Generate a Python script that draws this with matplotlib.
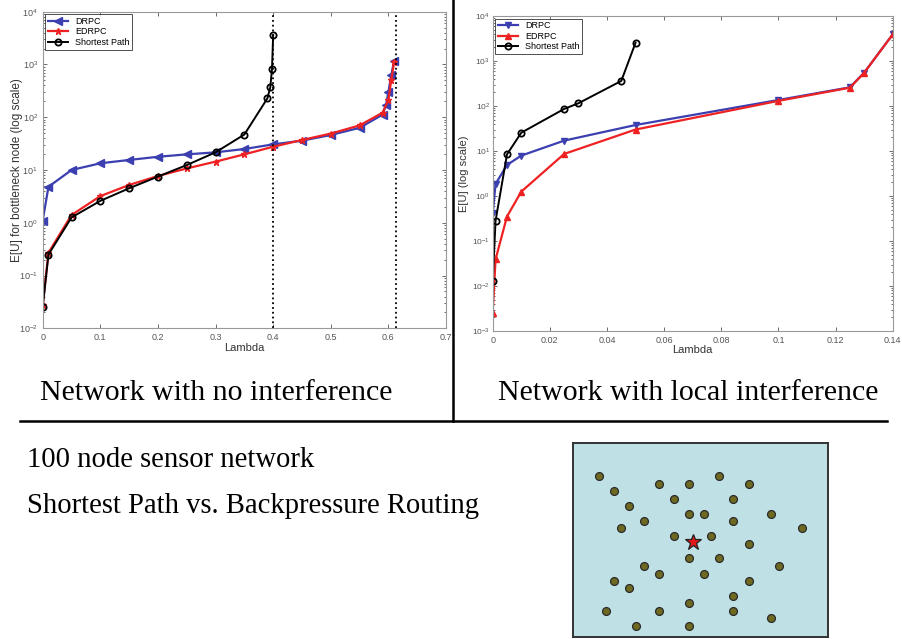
import matplotlib
matplotlib.use("Agg")
import matplotlib.pyplot as plt
from matplotlib.ticker import LogLocator, NullFormatter, FixedLocator, FixedFormatter

# ---- left panel: network with no interference ----
lam_l_drpc = [0, 0.01, 0.05, 0.1, 0.15, 0.2, 0.25, 0.3, 0.35, 0.4, 0.45, 0.5,
              0.55, 0.59, 0.596, 0.6, 0.605, 0.61]
eu_l_drpc = [1.1, 4.8, 10, 13.4, 15.5, 17.8, 19.8, 21.6, 25, 30.6, 36, 46,
             63, 112, 174, 300, 630, 1160]
lam_l_edrpc = [0, 0.01, 0.05, 0.1, 0.15, 0.2, 0.25, 0.3, 0.35, 0.4, 0.45, 0.5,
               0.55, 0.59, 0.6, 0.605, 0.61]
eu_l_edrpc = [0.028, 0.27, 1.4, 3.2, 5.2, 7.7, 10.7, 14.4, 19.8, 27.6, 37, 49,
              70, 122, 213, 507, 1120]
lam_l_sp = [0, 0.01, 0.05, 0.1, 0.15, 0.2, 0.25, 0.3, 0.35, 0.39, 0.395, 0.398, 0.4]
eu_l_sp = [0.025, 0.25, 1.26, 2.6, 4.5, 7.5, 12.4, 21.6, 47, 228, 368, 820, 3600]
capacity_lines = [0.4, 0.613]

# ---- right panel: network with local interference ----
lam_r = [0, 0.001, 0.005, 0.01, 0.025, 0.05, 0.1, 0.125, 0.13, 0.14]
eu_r_drpc = [0.41, 1.85, 4.9, 7.9, 17, 37.8, 136, 260, 550, 3900]
eu_r_edrpc = [0.00255, 0.039, 0.35, 1.25, 8.6, 30, 130, 255, 545, 3900]
lam_r_sp = [0, 0.001, 0.005, 0.01, 0.025, 0.03, 0.045, 0.05]
eu_r_sp = [0.013, 0.28, 8.4, 25.5, 86, 115, 360, 2550]

xticks_l = [0, 0.1, 0.2, 0.3, 0.4, 0.5, 0.6, 0.7]
xticks_r = [0, 0.02, 0.04, 0.06, 0.08, 0.1, 0.12, 0.14]

# ---- sensor layout (picture units) ----
node_x = [118, 162, 207, 184, 252, 296, 386, 342, 476, 566, 520, 386, 432, 520,
          632, 724, 342, 454, 566, 386, 476, 252, 296, 432, 656, 162, 207, 566,
          520, 386, 140, 296, 520, 632, 230, 386]
node_y = [140, 184, 230, 296, 274, 162, 162, 207, 140, 162, 207, 252, 252, 274,
          252, 296, 318, 318, 342, 386, 386, 408, 432, 432, 408, 454, 476, 454,
          498, 520, 544, 544, 544, 566, 588, 588]
sink_x, sink_y = 398, 336

W, H = 903, 639
fig = plt.figure(figsize=(W / 100, H / 100), dpi=100)
plt.rcParams["font.family"] = ["Liberation Sans", "DejaVu Sans"]

BLUE = "#3b3fb0"
RED = "#ee2222"


def px_axes(x0, y0, x1, y1):
    return fig.add_axes([x0 / W, 1 - y1 / H, (x1 - x0) / W, (y1 - y0) / H])


def style(ax, ticks, labels):
    ax.set_yscale("log")
    ax.xaxis.set_major_locator(FixedLocator(ticks))
    ax.xaxis.set_major_formatter(FixedFormatter(labels))
    ax.yaxis.set_major_locator(LogLocator(base=10, numticks=20))
    ax.yaxis.set_minor_locator(LogLocator(base=10, subs=range(2, 10), numticks=20))
    ax.yaxis.set_minor_formatter(NullFormatter())
    ax.tick_params(which="both", direction="in", top=True, right=True,
                   colors="#555555", labelsize=6.5, width=0.6)
    ax.tick_params(which="major", length=3)
    ax.tick_params(which="minor", length=1.5)
    for s in ax.spines.values():
        s.set_color("#999999")
        s.set_linewidth(0.8)


# left plot
axl = px_axes(42.7, 11.7, 446, 328.3)
axl.plot(lam_l_drpc, eu_l_drpc, color=BLUE, lw=1.6, marker="<", ms=5.5, label="DRPC")
axl.plot(lam_l_edrpc, eu_l_edrpc, color=RED, lw=1.6, marker="*", ms=4.5, label="EDRPC")
axl.plot(lam_l_sp, eu_l_sp, color="black", lw=1.4, marker="o", ms=4.5, mfc="none",
         mew=1.3, label="Shortest Path")
for xv in capacity_lines:
    axl.axvline(xv, color="black", ls=":", lw=1.3)
axl.set_xlim(0, 0.7)
axl.set_ylim(1e-2, 1e4)
style(axl, xticks_l, ["0", "0.1", "0.2", "0.3", "0.4", "0.5", "0.6", "0.7"])
axl.set_xlabel("Lambda", fontsize=8, color="#333333")
axl.set_ylabel("E[U] for bottleneck node (log scale)", fontsize=8.5, color="#333333")
axl.xaxis.set_label_coords(0.5, -0.062)
axl.xaxis.label.set_va("center")
axl.yaxis.set_label_coords(-0.064, 0.5)
axl.yaxis.label.set_va("center")
axl.legend(loc="upper left", fontsize=6.5, frameon=True, fancybox=False,
           edgecolor="black", borderpad=0.3, labelspacing=0.15, handlelength=2.2,
           borderaxespad=0.3).get_frame().set_linewidth(0.6)

# right plot
axr = px_axes(492.7, 16, 892.7, 331)
axr.plot(lam_r, eu_r_drpc, color=BLUE, lw=1.6, marker="v", ms=5, label="DRPC")
axr.plot(lam_r, eu_r_edrpc, color=RED, lw=1.6, marker="^", ms=5, label="EDRPC")
axr.plot(lam_r_sp, eu_r_sp, color="black", lw=1.4, marker="o", ms=4.5, mfc="none",
         mew=1.3, label="Shortest Path")
axr.set_xlim(0, 0.14)
axr.set_ylim(1e-3, 1e4)
style(axr, xticks_r, ["0", "0.02", "0.04", "0.06", "0.08", "0.1", "0.12", "0.14"])
axr.tick_params(axis="y", which="major", labelsize=6, pad=2)
axr.set_xlabel("Lambda", fontsize=8, color="#333333")
axr.set_ylabel("E[U] (log scale)", fontsize=8, color="#333333")
axr.xaxis.set_label_coords(0.5, -0.06)
axr.xaxis.label.set_va("center")
axr.yaxis.set_label_coords(-0.072, 0.5)
axr.yaxis.label.set_va("center")
axr.legend(loc="upper left", fontsize=6.5, frameon=True, fancybox=False,
           edgecolor="black", borderpad=0.3, labelspacing=0.15, handlelength=2.2,
           borderaxespad=0.3).get_frame().set_linewidth(0.6)

# divider lines
fig.add_artist(plt.Line2D([453 / W, 453 / W], [1, 1 - 421 / H], color="black", lw=1.8))
fig.add_artist(plt.Line2D([20 / W, 887 / W], [1 - 421 / H, 1 - 421 / H], color="black", lw=1.8))

serif = ["Liberation Serif", "DejaVu Serif"]
fig.text(216 / W, 1 - 400 / H, "Network with no interference", family=serif,
         fontsize=21.5, ha="center", va="baseline")
fig.text(688 / W, 1 - 400 / H, "Network with local interference", family=serif,
         fontsize=21.5, ha="center", va="baseline")
fig.text(27 / W, 1 - 467 / H, "100 node sensor network", family=serif,
         fontsize=20.6, ha="left", va="baseline")
fig.text(27 / W, 1 - 513 / H, "Shortest Path vs. Backpressure Routing", family=serif,
         fontsize=20.6, ha="left", va="baseline")

# sensor network picture
axn = px_axes(573, 443, 828, 637)
axn.set_facecolor("#bfe1e6")
axn.scatter(node_x, node_y, s=32, color="#6e6a22", edgecolors="#2a2a2a", linewidths=0.9)
axn.plot(sink_x, sink_y, marker="*", ms=12, color="#e01818", mec="#222222", mew=0.9)
axn.set_xlim(40, 803)
axn.set_ylim(622, 40)
axn.set_xticks([])
axn.set_yticks([])
for s in axn.spines.values():
    s.set_color("#333333")
    s.set_linewidth(1.4)

fig.savefig("out.png", dpi=100)
